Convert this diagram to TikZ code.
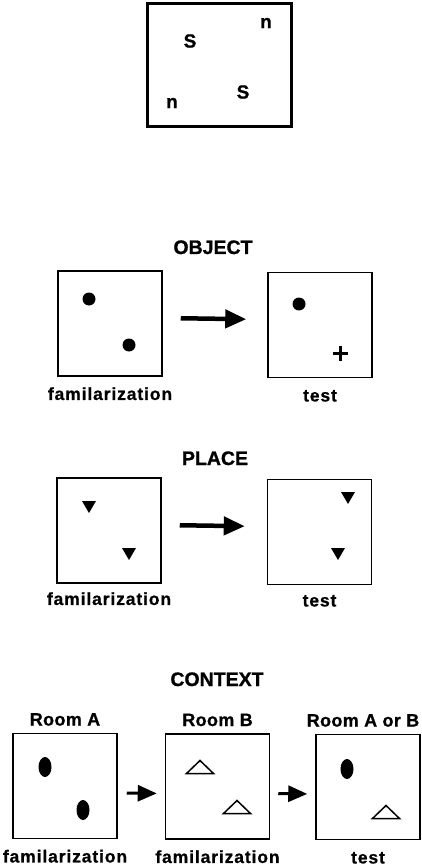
\documentclass[tikz,border=0pt]{standalone}
\usepackage{fontspec}
\setmainfont{Liberation Sans}
\usepackage{tikz}
\usetikzlibrary{arrows.meta,positioning}

\begin{document}
\begin{tikzpicture}[x=1pt,y=-1pt,
  roombox/.style={draw, line width=1.5pt, minimum width=104pt, minimum height=105pt, inner sep=0pt},
  ttl/.style={font=\fontsize{19.5}{20}\selectfont\bfseries\addfontfeatures{FakeBold=1}, anchor=base, inner sep=0pt},
  lbl/.style={font=\fontsize{17.5}{18}\selectfont\bfseries\addfontfeatures{LetterSpace=5,FakeBold=0.8}, inner sep=0pt, text height=13pt, text depth=1pt},
  roomlbl/.style={font=\fontsize{18}{18}\selectfont\bfseries\addfontfeatures{LetterSpace=2,FakeBold=0.8}, inner sep=0pt, text height=13pt, text depth=3pt},
  bigarrow/.style={line width=4.5pt, -{Triangle[length=21pt,width=18pt]}},
  smallarrow/.style={line width=3pt, -{Triangle[length=19pt,width=16pt]}},
  letter/.style={font=\fontsize{19}{20}\selectfont\bfseries\addfontfeatures{FakeBold=0.8}, inner sep=0pt}]
\useasboundingbox (0,0) rectangle (422,866);

\node[draw, line width=3.5pt, minimum width=144pt, minimum height=123pt, inner sep=0pt] (arena) at (219.5,65) {};
\node[letter] (s1) at (190,41) {S};
\node[letter] (n1) at (266,23) {n};
\node[letter] (s2) at (243,92) {S};
\node[letter] (n2) at (172,103) {n};

\node[ttl] (objttl) at (213,254) {OBJECT};
\node[roombox] (objfam) at (110,323.5) {};
\node[roombox] (objtest) at (320,325) {};
\fill (89,299) circle (6.5);
\fill (129,345) circle (6.5);
\fill (299,304) circle (6.5);
\draw[line width=3pt] (332.5,353) -- (347.5,353) (340,345.5) -- (340,360.5);
\draw[bigarrow, shorten <=18pt, shorten >=21pt] ([yshift=5.5pt]objfam.east) -- ([yshift=5.5pt]objtest.west);
\node[lbl, below=10pt of objfam] (objfamlbl) {familarization};
\node[lbl, below=10pt of objtest] (objtestlbl) {test};

\node[ttl] (placettl) at (215,465) {PLACE};
\node[roombox] (placefam) at (109,530.5) {};
\node[roombox] (placetest) at (319.5,532) {};
\foreach \x/\y in {89/507, 129/554, 348/498, 338/554}
  \fill (\x-7,\y-6) -- (\x+7,\y-6) -- (\x,\y+6) -- cycle;
\draw[bigarrow, shorten <=18pt, shorten >=22pt] ([yshift=5.5pt]placefam.east) -- ([yshift=5.5pt]placetest.west);
\node[lbl, below=8pt of placefam] (placefamlbl) {familarization};
\node[lbl, below=8pt of placetest] (placetestlbl) {test};

\node[ttl] (ctxttl) at (217,686) {CONTEXT};
\node[roombox] (ctxA) at (65,786) {};
\node[roombox] (ctxB) at (217.5,786.5) {};
\node[roombox] (ctxT) at (368,787) {};
\node[roomlbl, above=4pt of ctxA] (ctxAlbl) {Room A};
\node[roomlbl, above=4pt of ctxB] (ctxBlbl) {Room B};
\node[roomlbl, above=4pt of ctxT, xshift=-5pt] (ctxTlbl) {Room A or B};
\foreach \x/\y in {45/767, 83/810, 347/769}
  \fill (\x,\y) ellipse (6.5 and 10);
\foreach \x/\y in {200/767, 237/807, 386/812}
  \draw[line width=1.5pt, line join=miter] (\x-13.5,\y+6.5) -- (\x+13.5,\y+6.5) -- (\x,\y-6.5) -- cycle;
\draw[smallarrow, shorten <=9pt, shorten >=8pt] ([yshift=-7pt]ctxA.east) -- ([yshift=-7pt]ctxB.west);
\draw[smallarrow, shorten <=8pt, shorten >=8pt] ([yshift=-7pt]ctxB.east) -- ([yshift=-7pt]ctxT.west);
\node[lbl, below=10pt of ctxA] (ctxAbot) {familarization};
\node[lbl, below=10pt of ctxB] (ctxBbot) {familarization};
\node[lbl, below=10pt of ctxT] (ctxTbot) {test};
\end{tikzpicture}
\end{document}
